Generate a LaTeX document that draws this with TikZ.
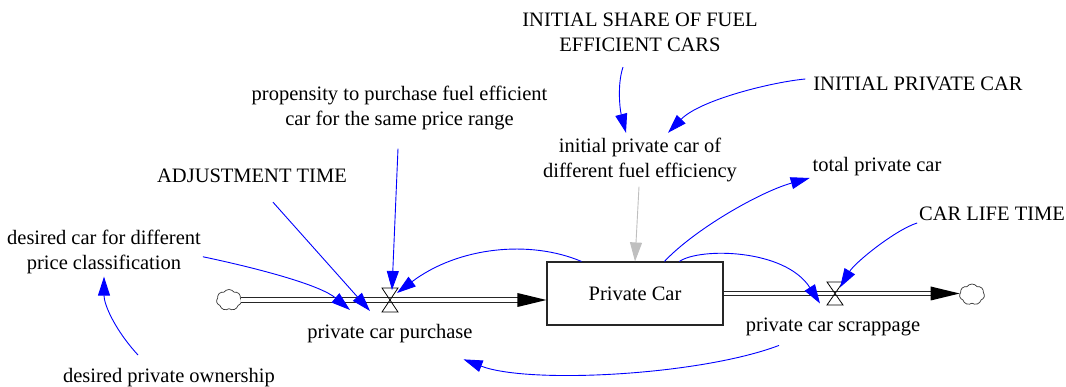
\documentclass[tikz,border=0pt]{standalone}
\usepackage{fontspec}
\setmainfont{Liberation Serif}
\usetikzlibrary{arrows.meta,shapes.symbols,calc}
\begin{document}
\begin{tikzpicture}[x=1pt,y=-1pt,
  lbl/.style={inner sep=0pt, outer sep=0pt, font=\fontsize{20.5}{25}\selectfont},
  lbl1/.style={lbl, anchor=base},
  lbl2/.style={lbl, align=center, anchor=center},
  infl/.style={draw=blue, line width=0.9pt, -{Triangle[length=19pt,width=12pt]}},
  grayinfl/.style={draw=black!25, line width=0.9pt, -{Triangle[length=19pt,width=12pt]}},
  stockbox/.style={draw=black!85, line width=1.1pt, minimum width=176pt, minimum height=63pt, inner sep=0pt, font=\fontsize{20.5}{25}\selectfont},
  pipe/.style={draw=black!85, line width=1.1pt, double=white, double distance=3.6pt},
  valvebox/.style={minimum width=16pt, minimum height=24pt, inner sep=0pt, outer sep=0pt},
  valveline/.style={draw=black, line width=0.8pt},
  sinkcloud/.style={cloud, cloud puffs=7, cloud puff arc=110, aspect=1.15, draw=black!80, line width=0.7pt, minimum width=25pt, minimum height=21pt, inner sep=0pt, outer sep=0pt}
]
\useasboundingbox (0,0) rectangle (1066,387);

% stock, clouds, valves
\node[stockbox] (stock) at (635,293.5) {Private Car};
\node[sinkcloud] (cloudL) at (229,300) {};
\node[sinkcloud] (cloudR) at (972,294.5) {};
\node[valvebox] (v1) at (390,300) {};
\node[valvebox, minimum height=23pt] (v2) at (835,293.5) {};

% labels
\node[lbl1] (purchase) at (390,339) {private car purchase};
\node[lbl1] (scrap) at (833,332) {private car scrappage};
\node[lbl2] (dcdp) at (104,251.75) {desired car for different\\price classification};
\node[lbl1] (dpo) at (169,382) {desired private ownership};
\node[lbl1] (adj) at (252,183) {ADJUSTMENT TIME};
\node[lbl2] (prop) at (399.5,107.75) {propensity to purchase fuel efficient\\car for the same price range};
\node[lbl2] (isfe) at (640,32.7) {INITIAL SHARE OF FUEL\\EFFICIENT CARS};
\node[lbl1] (initpc) at (918,91) {INITIAL PRIVATE CAR};
\node[lbl2] (ipc) at (640,159.75) {initial private car of\\different fuel efficiency};
\node[lbl1] (total) at (877,172) {total private car};
\node[lbl1] (clt) at (992,221) {CAR LIFE TIME};

% pipes
\draw[pipe] (cloudL.east) -- ($(cloudL.east -| stock.west)+(-28,0)$);
\fill[black] (cloudL.east -| stock.west) -- ++(-29,-7) -- ++(0,14) -- cycle;
\draw[pipe] (stock.east) -- ($(stock.east -| cloudR.west)+(-28,0)$);
\fill[black] (stock.east -| cloudR.west) -- ++(-29,-7) -- ++(0,14) -- cycle;

% valves
\draw[valveline] (v1.north west) -- (v1.north east) -- (v1.south west) -- (v1.south east) -- cycle;
\draw[valveline] (v2.north west) -- (v2.north east) -- (v2.south west) -- (v2.south east) -- cycle;

% information links
\draw[infl] ($(dpo.base)+(-31,-27)$) .. controls +(-23,-25) and +(0,28) .. ($(dcdp.south)+(0,3)$);
\draw[infl] ($(dcdp.east)+(2,5)$) .. controls +(57,12) and +(-30,-25) .. ($(v1)+(-40,10)$);
\draw[infl] ($(adj.south)+(21,19)$) -- ($(v1)+(-20,11)$);
\draw[infl] ($(prop.south)+(-1.5,19)$) -- ($(v1)+(2,-10)$);
\draw[infl] ($(stock.north west)+(35,0)$) .. controls +(-52,-22) and +(61,-46) .. ($(v1)+(7,-7)$);
\draw[infl] ($(stock.north west)+(118,0)$) .. controls +(30,-32) and +(-50,14) .. ($(total.base west)+(-3,6)$);
\draw[infl] ($(stock.north west)+(133,0)$) .. controls +(20,-14) and +(-35,-55) .. ($(v2)+(-15,10)$);
\draw[infl] ($(clt.base west)+(-2,2)$) .. controls +(-22,7) and +(15,-25) .. ($(v2)+(5,-6)$);
\draw[infl] ($(scrap.south)+(-54,9)$) .. controls +(-79,30) and +(65,25) .. ($(purchase.south east)+(-9,16)$);
\draw[infl] ($(isfe.south)+(-17,15)$) .. controls +(-6,18) and +(-6,-23) .. ($(ipc.north)+(-14,-5)$);
\draw[infl] ($(initpc.base west)+(-8,-12)$) .. controls +(-33,3) and +(32,-33) .. ($(ipc.north)+(28,-5)$);
\draw[grayinfl] ($(ipc.south)+(-1,5)$) -- (stock.north);
\end{tikzpicture}
\end{document}
